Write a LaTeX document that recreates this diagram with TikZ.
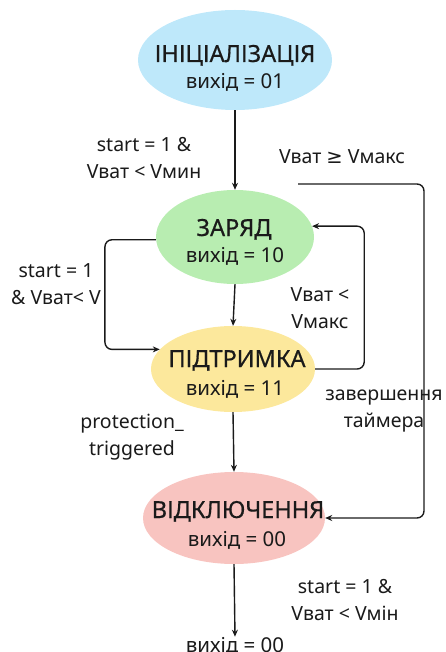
\documentclass[tikz,border=0pt]{standalone}
\usepackage{fontspec}
\setmainfont{Noto Sans}
\newfontfamily\symf{DejaVu Sans}
\newfontfamily\titlef[FakeBold=0.6]{Noto Sans}
\usetikzlibrary{shapes.geometric,arrows.meta}
\definecolor{cinit}{HTML}{BEE8FA}
\definecolor{ccharge}{HTML}{B8EDB1}
\definecolor{chold}{HTML}{FCE89C}
\definecolor{coff}{HTML}{F8C4C0}
\definecolor{ink}{HTML}{1A1A1A}
\tikzset{
  state/.style={ellipse, draw=none, inner sep=0pt},
  ttl/.style={anchor=base, inner sep=0pt, text=ink, font=\titlef\fontsize{23.5}{26}\selectfont},
  sub/.style={anchor=base, inner sep=0pt, text=ink, font=\fontsize{20.5}{22}\selectfont},
  arr/.style={draw=ink, line width=1.4pt, -{Stealth[length=7pt,width=6pt]}},
  lbl/.style={align=center, text=ink, font=\fontsize{19.5}{26.5}\selectfont, inner sep=0pt},
}
\begin{document}
\begin{tikzpicture}[x=1pt,y=-1pt]
\useasboundingbox (0,0) rectangle (445,652);
\node[state, fill=cinit, minimum width=194, minimum height=100] (init) at (235,60) {};
\node[state, fill=ccharge, minimum width=158, minimum height=94] (charge) at (235,237) {};
\node[state, fill=chold, minimum width=164, minimum height=86] (hold) at (233,369) {};
\node[state, fill=coff, minimum width=182, minimum height=92] (off) at (234,518) {};

\node[ttl] (initt) at (235,62) {ІНІЦІАЛІЗАЦІЯ};
\node[sub] (inits) at (235,89) {вихід = 01};
\node[ttl] (charget) at (234,236) {ЗАРЯД};
\node[sub] (charges) at (235,262) {вихід = 10};
\node[ttl] (holdt) at (237,367) {ПІДТРИМКА};
\node[sub] (holds) at (235,395) {вихід = 11};
\node[ttl] (offt) at (238,518) {ВІДКЛЮЧЕННЯ};
\node[sub] (offs) at (237,546) {вихід = 00};
\node[sub] (out) at (235,652) {вихід = 00};

\coordinate (vmstart) at (298,184);

\draw[arr] (init.south) -- (charge.north);
\draw[arr] (charge.south) -- (hold.north);
\draw[arr] (hold.south) -- (off.north);
\draw[arr] (off.south) -- (out.north);
\draw[arr, rounded corners=7pt] (charge.182) -- ++(-51,0) |- (hold.165);
\draw[arr, rounded corners=7pt] (hold.0) -- ++(49,0) |- (charge.8);
\draw[arr, rounded corners=7pt] (vmstart) -- ++(126,0) |- (off.east);

\node[lbl] (l1) at (144,158) {start = 1 \&\\Vват < Vмин};
\node[lbl] (l2) at (342,157) {Vват {\symf ≥} Vмакс};
\node[lbl] (l3) at (56,284) {start = 1\\\& Vват< V};
\node[lbl] (l4) at (320,308) {Vват <\\Vмакс};
\node[lbl] (l5) at (384,411) {завершення\\таймера};
\node[lbl] (l6) at (132,437) {protection\_\\triggered};
\node[lbl] (l7) at (345,600) {start = 1 \&\\Vват < Vмін};
\end{tikzpicture}
\end{document}
